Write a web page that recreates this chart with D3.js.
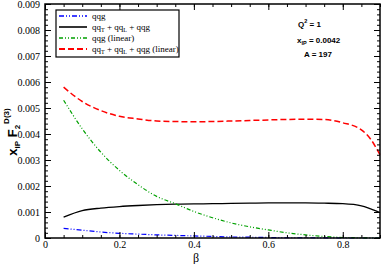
<!DOCTYPE html>
<html>
<head>
<meta charset="utf-8">
<script src="https://cdn.jsdelivr.net/npm/d3@7"></script>
<style>
  body { margin: 0; background: #fff; }
  svg { display: block; }
</style>
</head>
<body>
<script>
// beta grid shared by all curves
const beta = [0.05, 0.1, 0.15, 0.2, 0.25, 0.3, 0.35, 0.4, 0.45, 0.5, 0.55, 0.6, 0.65, 0.7, 0.75, 0.8, 0.85, 0.875, 0.9];

const qqg = [0.00037, 0.0003, 0.00023, 0.00018, 0.00015, 0.00012, 0.0001, 0.00008, 0.00006, 0.00004, 0.00003, 0.00002, 0.00001, 0.00001, 0.000005, 0, 0, 0, 0];
const qqTotal = [0.0008, 0.00105, 0.00115, 0.00121, 0.00125, 0.00128, 0.0013, 0.00131, 0.00132, 0.00133, 0.00134, 0.00135, 0.00135, 0.00135, 0.00134, 0.00132, 0.00124, 0.00112, 0.00098];
const qqgLinear = [0.0053, 0.0042, 0.0033, 0.0026, 0.00205, 0.0016, 0.00132, 0.00102, 0.00078, 0.00058, 0.00043, 0.00031, 0.0002, 0.00012, 0.00006, 0.00002, 0.000005, 0, 0];
const totalLinear = [0.0058, 0.00525, 0.0049, 0.00468, 0.00458, 0.0045, 0.00448, 0.00447, 0.00448, 0.0045, 0.00452, 0.00454, 0.00456, 0.00457, 0.00456, 0.00443, 0.00416, 0.0038, 0.0032];

const xTicks = [0, 0.2, 0.4, 0.6, 0.8];
const yTicks = [0, 0.001, 0.002, 0.003, 0.004, 0.005, 0.006, 0.007, 0.008, 0.009];

const width = 382, height = 264;
const margin = { top: 4, right: 2, bottom: 26, left: 45 };

const x = d3.scaleLinear().domain([0, 0.9]).range([margin.left, width - margin.right]);
const y = d3.scaleLinear().domain([0, 0.009]).range([height - margin.bottom, margin.top]);

const svg = d3.select("body").append("svg")
    .attr("width", width)
    .attr("height", height);

// series styles
const series = [
  { name: "qqg", values: qqg, color: "#0000ff", dash: "5,2,1,2,1,2", w: 1.2 },
  { name: "total", values: qqTotal, color: "#000", dash: null, w: 1.3 },
  { name: "qqgLin", values: qqgLinear, color: "#00a000", dash: "4,2,1,2,1,2", w: 1.2 },
  { name: "totalLin", values: totalLinear, color: "#ff0000", dash: "6,3", w: 1.5 }
];

const line = d3.line()
    .x((d, i) => x(beta[i]))
    .y(d => y(d))
    .curve(d3.curveMonotoneX);

svg.append("g").selectAll("path")
  .data(series)
  .join("path")
    .attr("fill", "none")
    .attr("stroke", d => d.color)
    .attr("stroke-width", d => d.w)
    .attr("stroke-dasharray", d => d.dash)
    .attr("d", d => line(d.values));

// axes with inside ticks, mirrored on top and right
function styleAxis(g) {
  g.select(".domain").remove();
  g.selectAll("line").attr("stroke", "#000");
}

const xMinor = d3.range(0, 0.9001, 0.05);
const yMinor = d3.range(0, 0.00901, 0.0002);

svg.append("g")
    .attr("transform", `translate(0,${y(0)})`)
    .call(d3.axisBottom(x).tickValues(xMinor).tickSize(-3).tickFormat(""))
    .call(styleAxis);
svg.append("g")
    .attr("transform", `translate(0,${y(0)})`)
    .call(d3.axisBottom(x).tickValues(xTicks).tickSize(-6).tickPadding(3).tickFormat(d3.format("")))
    .call(styleAxis)
    .call(g => g.selectAll("text").attr("font-family", "Liberation Serif").attr("font-size", 10).attr("fill", "#000"));
svg.append("g")
    .attr("transform", `translate(0,${y(0.009)})`)
    .call(d3.axisTop(x).tickValues(xMinor).tickSize(-3).tickFormat(""))
    .call(styleAxis);
svg.append("g")
    .attr("transform", `translate(0,${y(0.009)})`)
    .call(d3.axisTop(x).tickValues(xTicks).tickSize(-6).tickFormat(""))
    .call(styleAxis);

svg.append("g")
    .attr("transform", `translate(${x(0)},0)`)
    .call(d3.axisLeft(y).tickValues(yMinor).tickSize(-3).tickFormat(""))
    .call(styleAxis);
svg.append("g")
    .attr("transform", `translate(${x(0)},0)`)
    .call(d3.axisLeft(y).tickValues(yTicks).tickSize(-6).tickPadding(5).tickFormat(d => d === 0 ? "0" : d3.format(".3f")(d)))
    .call(styleAxis)
    .call(g => g.selectAll("text").attr("font-family", "Liberation Serif").attr("font-size", 10).attr("fill", "#000"));
svg.append("g")
    .attr("transform", `translate(${x(0.9)},0)`)
    .call(d3.axisRight(y).tickValues(yMinor).tickSize(-3).tickFormat(""))
    .call(styleAxis);
svg.append("g")
    .attr("transform", `translate(${x(0.9)},0)`)
    .call(d3.axisRight(y).tickValues(yTicks).tickSize(-6).tickFormat(""))
    .call(styleAxis);

// frame
svg.append("rect")
    .attr("x", x(0)).attr("y", y(0.009))
    .attr("width", x(0.9) - x(0)).attr("height", y(0) - y(0.009))
    .attr("fill", "none").attr("stroke", "#000").attr("stroke-width", 1.5);

// legend
const legend = svg.append("g").attr("font-family", "Liberation Serif").attr("font-size", 9);
legend.append("rect")
    .attr("x", 56).attr("y", 10).attr("width", 123).attr("height", 47)
    .attr("fill", "#fff").attr("stroke", "#000").attr("stroke-width", 1.2);

const legendRows = [
  { s: series[0], parts: [["qqg"]] },
  { s: series[1], parts: [["qq"], ["T", "sub"], [" + qq"], ["L", "sub"], [" + qqg"]] },
  { s: series[2], parts: [["qqg (linear)"]] },
  { s: series[3], parts: [["qq"], ["T", "sub"], [" + qq"], ["L", "sub"], [" + qqg (linear)"]] }
];

legendRows.forEach((r, i) => {
  const ly = 16 + i * 11;
  legend.append("line")
      .attr("x1", 59).attr("x2", 87).attr("y1", ly).attr("y2", ly)
      .attr("stroke", r.s.color).attr("stroke-width", r.s.w + 0.3)
      .attr("stroke-dasharray", r.s.dash);
  const t = legend.append("text").attr("x", 92).attr("y", ly + 3);
  r.parts.forEach(p => {
    const ts = t.append("tspan").text(p[0]);
    if (p[1] === "sub") ts.attr("font-size", 6).attr("dy", 2);
    else if (t.selectAll("tspan").size() > 1) ts.attr("dy", -2);
  });
});

// annotation
const ann = svg.append("g")
    .attr("font-family", "Liberation Sans").attr("font-weight", "bold").attr("font-size", 8).attr("fill", "#000");
const q = ann.append("text").attr("x", 298).attr("y", 27);
q.append("tspan").text("Q");
q.append("tspan").text("2").attr("font-size", 5.5).attr("dy", -4);
q.append("tspan").text(" = 1").attr("dy", 4);
const xp = ann.append("text").attr("x", 297).attr("y", 43);
xp.append("tspan").text("x");
xp.append("tspan").text("IP").attr("font-size", 5.5).attr("dy", 2);
xp.append("tspan").text(" = 0.0042").attr("dy", -2);
ann.append("text").attr("x", 304).attr("y", 57).text("A = 197");

// axis titles
svg.append("text")
    .attr("x", 196).attr("y", 262)
    .attr("text-anchor", "middle")
    .attr("font-family", "Liberation Serif").attr("font-size", 12)
    .text("β");

const yt = svg.append("text")
    .attr("transform", "translate(17,132) rotate(-90)")
    .attr("text-anchor", "middle")
    .attr("font-family", "Liberation Sans").attr("font-weight", "bold").attr("font-size", 13);
yt.append("tspan").text("x");
yt.append("tspan").text("IP").attr("font-size", 8).attr("dy", 3);
yt.append("tspan").text("  F").attr("dy", -3);
yt.append("tspan").text("2").attr("font-size", 8).attr("dy", 3);
yt.append("tspan").text("D(3)").attr("font-size", 8).attr("dx", 1).attr("dy", -11);
</script>
</body>
</html>
